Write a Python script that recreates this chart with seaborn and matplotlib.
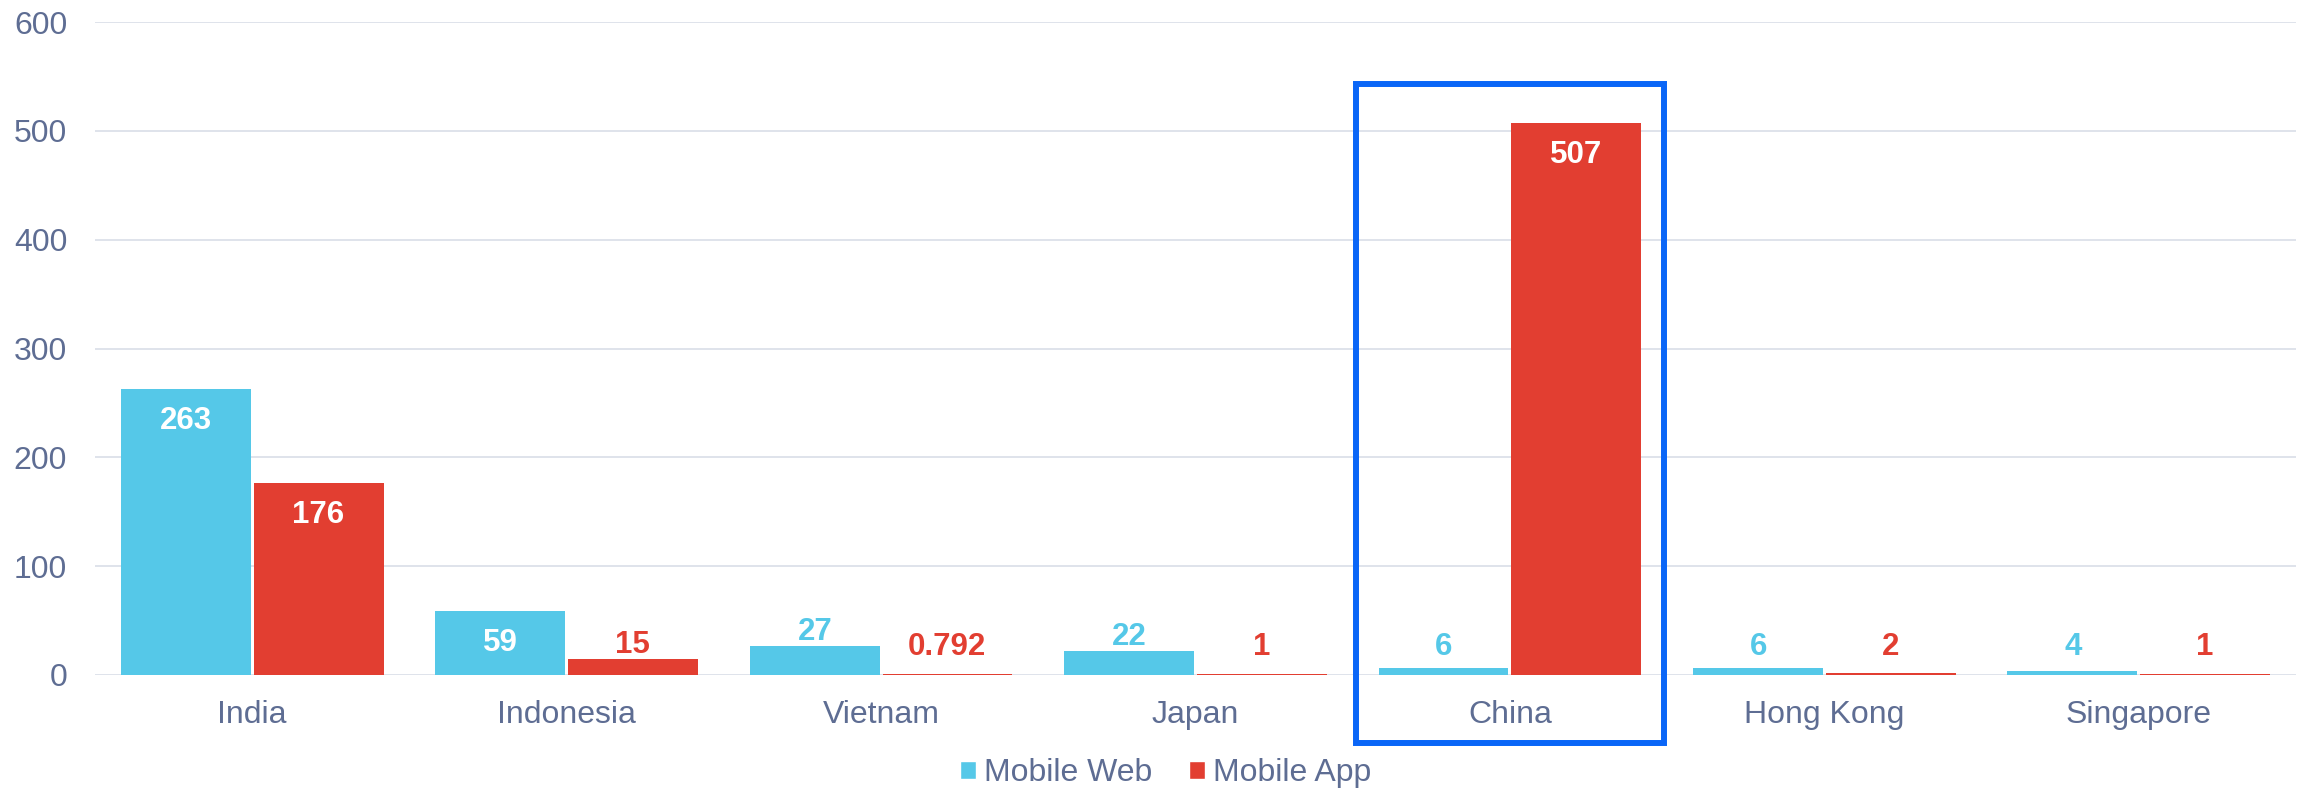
import matplotlib
matplotlib.use("Agg")
import matplotlib.pyplot as plt
from matplotlib.patches import Patch, Rectangle
import pandas as pd
import seaborn as sns

# Monthly active users by market and channel
countries = ["India", "Indonesia", "Vietnam", "Japan", "China", "Hong Kong", "Singapore"]
mobile_web = [263, 59, 27, 22, 6, 6, 4]
mobile_app = [176, 15, 0.792, 1, 507, 2, 1]
web_labels = ["263", "59", "27", "22", "6", "6", "4"]
app_labels = ["176", "15", "0.792", "1", "507", "2", "1"]
series = ["Mobile Web", "Mobile App"]
y_ticks = [0, 100, 200, 300, 400, 500, 600]
highlight = "China"

WEB_COLOR = "#55C8E8"
APP_COLOR = "#E23E31"
TEXT_COLOR = "#5E6D93"
GRID_COLOR = "#DCE0E9"
BOX_COLOR = "#0A66F7"

df = pd.DataFrame({
    "country": countries * 2,
    "value": mobile_web + mobile_app,
    "series": [series[0]] * len(countries) + [series[1]] * len(countries),
})

sns.set_theme(style="white")
plt.rcParams["font.family"] = ["Liberation Sans", "DejaVu Sans"]

fig = plt.figure(figsize=(23.05, 7.92), dpi=100)
ax = fig.add_axes([95 / 2305, 1 - 675 / 792, (2296 - 95) / 2305, (675 - 22) / 792])

sns.barplot(
    data=df, x="country", y="value", hue="series", order=countries,
    hue_order=series, palette=[WEB_COLOR, APP_COLOR], width=0.845,
    saturation=1, linewidth=0, ax=ax, legend=False,
)

# leave a thin white gap between the paired bars
px_per_cat = (2296 - 95) / len(countries)
gap = 1.5 / px_per_cat
for p in ax.patches:
    if isinstance(p, Rectangle) and p.get_height() > 0:
        p.set_x(p.get_x() + gap)
        p.set_width(p.get_width() - 2 * gap)
        p.set_zorder(3)

ax.set_ylim(0, 600)
ax.set_xlim(-0.5, len(countries) - 0.5)
ax.set_yticks(y_ticks)
ax.yaxis.grid(True, color=GRID_COLOR, linewidth=1.3, zorder=0)
ax.set_axisbelow(True)
for s in ax.spines.values():
    s.set_visible(False)
ax.set_xlabel("")
ax.set_ylabel("")
ax.tick_params(axis="y", length=0, pad=20, labelsize=23, labelcolor=TEXT_COLOR)
ax.tick_params(axis="x", length=0, pad=18, labelsize=23, labelcolor=TEXT_COLOR)

# value labels: inside the bar top when tall, above the bar otherwise
px_per_unit = (675 - 22) / 600
for vals, labels, sign, color in [
    (mobile_web, web_labels, -1, WEB_COLOR),
    (mobile_app, app_labels, 1, APP_COLOR),
]:
    for i, (v, lab) in enumerate(zip(vals, labels)):
        x = i + sign * 0.21
        if v > 40:
            y = v - 32 / px_per_unit
            ax.text(x, y, lab, ha="center", va="center", fontsize=22.5,
                    fontweight="bold", color="white", zorder=4)
        else:
            y = max(v + 14 / px_per_unit, 28 / px_per_unit)
            ax.text(x, y, lab, ha="center", va="center", fontsize=22.5,
                    fontweight="bold", color=color, zorder=4)

# highlight frame around one market
hi = countries.index(highlight)
top = (675 - 83.7) / px_per_unit
bottom = (675 - 743) / px_per_unit
ax.add_patch(Rectangle((hi - 0.49, bottom), 0.98, top - bottom, fill=False,
                       edgecolor=BOX_COLOR, linewidth=4.3, clip_on=False,
                       zorder=5))

handles = [Patch(facecolor=WEB_COLOR, label=series[0]),
           Patch(facecolor=APP_COLOR, label=series[1])]
fig.legend(handles=handles, loc="center", bbox_to_anchor=(1166 / 2305, 1 - 773 / 792),
           ncol=2, frameon=False, fontsize=23, labelcolor=TEXT_COLOR,
           handlelength=0.5, handleheight=0.5, handletextpad=0.25,
           columnspacing=1.15)

fig.savefig("out.png", dpi=100, facecolor="white")
